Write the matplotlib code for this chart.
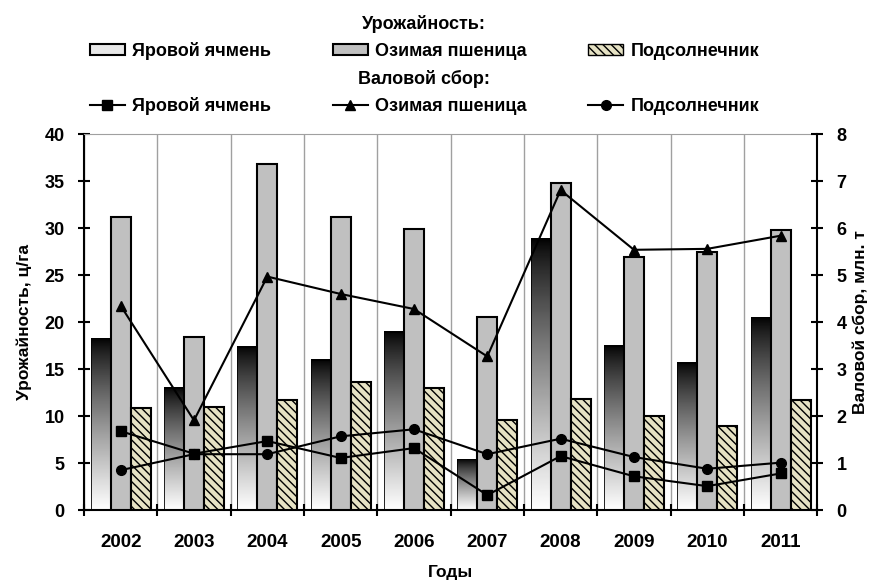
import numpy as np
import matplotlib
matplotlib.use("Agg")
import matplotlib.pyplot as plt
from matplotlib.patches import Patch
from matplotlib.lines import Line2D

plt.rcParams['font.family'] = ['Liberation Sans', 'DejaVu Sans']
plt.rcParams['font.weight'] = 'bold'
plt.rcParams['hatch.linewidth'] = 1.0

years = ['2002', '2003', '2004', '2005', '2006', '2007', '2008', '2009', '2010', '2011']

# урожайность, ц/га
yield_barley = [18.3, 13.0, 17.4, 16.0, 19.0, 5.4, 28.9, 17.5, 15.7, 20.5]
yield_wheat = [31.2, 18.4, 36.8, 31.2, 29.9, 20.5, 34.8, 26.9, 27.5, 29.8]
yield_sunflower = [10.9, 11.0, 11.75, 13.6, 13.0, 9.6, 11.8, 10.0, 8.9, 11.75]

# валовой сбор, млн. т
prod_barley = [1.68, 1.20, 1.47, 1.11, 1.32, 0.32, 1.15, 0.72, 0.51, 0.78]
prod_wheat = [4.35, 1.91, 4.97, 4.60, 4.28, 3.27, 6.81, 5.54, 5.56, 5.84]
prod_sunflower = [0.85, 1.19, 1.19, 1.57, 1.72, 1.19, 1.52, 1.13, 0.88, 1.01]

labels = ['Яровой ячмень', 'Озимая пшеница', 'Подсолнечник']

fig = plt.figure(figsize=(8.75, 5.81), dpi=100)
ax = fig.add_axes([0.096, 0.122, 0.838, 0.647])

x = np.arange(len(years))
w = 0.273
hatch = '\\\\\\\\'

# gradient bars (black top -> white bottom)
grad = np.linspace(0, 1, 256).reshape(-1, 1) ** 0.8
for xi, h in zip(x, yield_barley):
    x0 = xi - 1.5 * w
    ax.imshow(grad, cmap='gray', vmin=0, vmax=1, extent=[x0, x0 + w, 0, h],
              aspect='auto', origin='upper', zorder=2)
    ax.bar(x0, h, width=w, align='edge', facecolor='none', edgecolor='black',
           linewidth=0.6, zorder=3)

ax.bar(x, yield_wheat, width=w, color='#c0c0c0', edgecolor='black',
       linewidth=1.5, zorder=3)
ax.bar(x + w, yield_sunflower, width=w, color='#e6e2c4', edgecolor='black',
       linewidth=1.5, hatch=hatch, zorder=3)

ax.set_xlim(-0.5, len(years) - 0.5)
ax.set_ylim(0, 40)
ax.set_yticks(np.arange(0, 41, 5))
ax.set_xticks(x)
ax.set_xticklabels(years)
ax.set_xticks(np.arange(-0.5, len(years), 1), minor=True)
ax.tick_params(axis='x', which='major', length=0, pad=17, labelsize=13.5)
ax.tick_params(axis='x', which='minor', direction='inout', length=8, width=1.5)
ax.tick_params(axis='y', direction='inout', length=8, width=1.5, labelsize=13, pad=10)
ax.grid(True, axis='x', which='minor', color='#a0a0a0', linewidth=1, zorder=0)
ax.set_axisbelow(True)
for s in ['left', 'bottom']:
    ax.spines[s].set_linewidth(1.5)
ax.spines['top'].set_color('#a0a0a0')
ax.spines['right'].set_visible(False)
ax.set_ylabel('Урожайность, ц/га', fontsize=12.5, fontweight='bold', labelpad=9)
ax.set_xlabel('Годы', fontsize=12.5, fontweight='bold', labelpad=10)

ax2 = ax.twinx()
ax2.set_ylim(0, 8)
ax2.set_yticks(np.arange(0, 9, 1))
mk = dict(color='black', linewidth=1.5, markersize=7, zorder=5)
ax2.plot(x, prod_barley, marker='s', **mk)
ax2.plot(x, prod_wheat, marker='^', **mk)
ax2.plot(x, prod_sunflower, marker='o', **mk)
ax2.tick_params(axis='y', direction='inout', length=8, width=1.5, labelsize=13, pad=10)
ax2.spines['right'].set_linewidth(1.5)
ax2.spines['top'].set_visible(False)
ax2.spines['left'].set_visible(False)
ax2.spines['bottom'].set_visible(False)
ax2.set_ylabel('Валовой сбор, млн. т', fontsize=12.5, fontweight='bold', labelpad=4)

bar_handles = [
    Patch(facecolor='#e8e8e8', edgecolor='black', linewidth=1.5),
    Patch(facecolor='#c0c0c0', edgecolor='black', linewidth=1.5),
    Patch(facecolor='#e6e2c4', edgecolor='black', linewidth=1.0, hatch=hatch),
]
line_handles = [
    Line2D([], [], color='black', marker='s', lw=1.5, markersize=7),
    Line2D([], [], color='black', marker='^', lw=1.5, markersize=7),
    Line2D([], [], color='black', marker='o', lw=1.5, markersize=7),
]
common = dict(loc='upper center', ncol=3, frameon=False, handlelength=1.95,
              handleheight=0.6, handletextpad=0.4, columnspacing=3.4,
              labelspacing=0.5,
              prop={'weight': 'bold', 'size': 13},
              title_fontproperties={'weight': 'bold', 'size': 13})
fig.legend(bar_handles, labels, title='Урожайность:',
           bbox_to_anchor=(0.485, 1.002), **common)
fig.legend(line_handles, labels, title='Валовой сбор:',
           bbox_to_anchor=(0.485, 0.907), **common)

fig.savefig('out.png', dpi=100)
